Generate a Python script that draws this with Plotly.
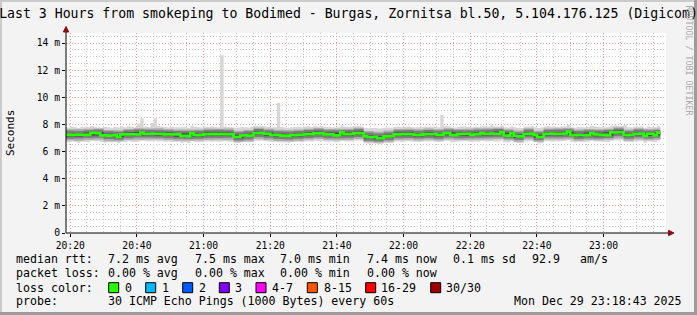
import plotly.graph_objects as go
import pandas as pd

# ---------------- data ----------------
title_text = "Last 3 Hours from smokeping to Bodimed - Burgas, Zornitsa bl.50, 5.104.176.125 (Digicom)"
start_time = "2025-12-29 20:18:00"
range_start = "2025-12-29 20:18:43"
range_end = "2025-12-29 23:18:43"

# median rtt per minute (ms)
rtt_median = [
    7.24, 7.25, 7.23, 7.24, 7.25, 7.24, 7.23, 7.24, 7.37, 7.38,
    7.36, 7.19, 7.20, 7.18, 7.19, 7.20, 7.08, 7.27, 7.26, 7.27,
    7.28, 7.27, 7.26, 7.40, 7.32, 7.31, 7.33, 7.32, 7.31, 7.32,
    7.27, 7.28, 7.26, 7.27, 7.28, 7.15, 7.16, 7.14, 7.37, 7.22,
    7.21, 7.23, 7.29, 7.28, 7.30, 7.29, 7.28, 7.30, 7.29, 7.28,
    7.29, 7.07, 7.08, 7.19, 7.20, 7.18, 7.19, 7.37, 7.36, 7.38,
    7.32, 7.31, 7.22, 7.23, 7.21, 7.17, 7.18, 7.16, 7.22, 7.21,
    7.23, 7.22, 7.29, 7.30, 7.28, 7.35, 7.34, 7.36, 7.27, 7.26,
    7.28, 7.19, 7.20, 7.42, 7.29, 7.28, 7.30, 7.36, 7.37, 7.35,
    7.12, 7.07, 7.06, 7.08, 6.98, 6.99, 7.12, 7.11, 7.13, 7.27,
    7.26, 7.28, 7.29, 7.30, 7.28, 7.24, 7.23, 7.25, 7.29, 7.30,
    7.28, 7.29, 7.22, 7.23, 7.37, 7.36, 7.22, 7.21, 7.29, 7.30,
    7.32, 7.31, 7.22, 7.29, 7.28, 7.37, 7.32, 7.31, 7.33, 7.32,
    7.31, 7.42, 7.19, 7.18, 7.37, 7.17, 7.12, 7.11, 7.32, 7.31,
    7.33, 7.22, 7.07, 7.08, 7.32, 7.31, 7.33, 7.32, 7.31, 7.32,
    7.33, 7.47, 7.22, 7.21, 7.23, 7.22, 7.21, 7.22, 7.37, 7.27,
    7.26, 7.22, 7.23, 7.21, 7.42, 7.41, 7.43, 7.42, 7.22, 7.21,
    7.23, 7.32, 7.31, 7.33, 7.15, 7.32, 7.31, 7.20, 7.40,
]

# slowest ping per minute (ms)
rtt_max = [
    7.82, 7.78, 7.85, 7.80, 7.76, 7.83, 7.79, 7.81, 7.88, 7.84,
    7.80, 7.77, 7.82, 7.79, 7.75, 7.81, 7.78, 7.84, 7.80, 7.86,
    7.83, 7.79, 8.05, 8.45, 7.85, 7.82, 8.10, 8.45, 7.88, 7.84,
    7.81, 7.78, 7.83, 7.80, 7.77, 7.79, 7.82, 7.76, 7.90, 7.83,
    7.80, 7.78, 7.84, 7.81, 7.86, 7.83, 7.80, 13.10, 7.85, 7.82,
    7.79, 7.75, 7.78, 7.81, 7.80, 7.77, 7.83, 7.90, 7.86, 7.88,
    7.84, 7.82, 7.80, 7.79, 9.60, 7.81, 7.78, 7.76, 7.80, 7.83,
    7.81, 7.79, 7.84, 7.86, 7.82, 7.88, 7.85, 7.87, 7.83, 7.81,
    7.80, 7.78, 7.79, 7.92, 7.84, 7.82, 7.85, 7.87, 7.89, 7.86,
    7.76, 7.72, 7.74, 7.73, 7.70, 7.72, 7.75, 7.77, 7.76, 7.82,
    7.84, 7.81, 7.83, 7.85, 7.82, 7.80, 7.79, 7.81, 7.84, 7.83,
    7.85, 7.82, 7.80, 8.70, 7.88, 7.86, 7.79, 7.78, 7.83, 7.84,
    7.85, 7.82, 7.79, 7.83, 7.81, 7.88, 7.86, 7.84, 7.95, 7.85,
    7.83, 7.92, 7.80, 7.78, 7.87, 7.79, 7.75, 7.74, 7.84, 7.85,
    7.86, 7.80, 7.76, 7.78, 7.84, 7.86, 7.83, 7.85, 7.82, 7.84,
    7.86, 7.96, 7.80, 7.78, 7.81, 7.79, 7.80, 7.82, 7.88, 7.84,
    7.82, 7.80, 7.79, 7.81, 7.90, 7.92, 7.89, 7.91, 7.98, 7.80,
    7.79, 7.85, 7.84, 7.86, 7.76, 7.84, 7.82, 7.80, 7.88,
]

# fastest ping per minute (ms)
rtt_min = [
    6.72, 6.68, 6.75, 6.70, 6.66, 6.73, 6.71, 6.69, 6.80, 6.76,
    6.78, 6.70, 6.67, 6.72, 6.69, 6.71, 6.62, 6.74, 6.70, 6.76,
    6.73, 6.71, 6.75, 6.80, 6.78, 6.74, 6.77, 6.79, 6.75, 6.76,
    6.72, 6.74, 6.70, 6.73, 6.75, 6.66, 6.68, 6.64, 6.79, 6.70,
    6.69, 6.71, 6.74, 6.76, 6.73, 6.75, 6.72, 6.74, 6.76, 6.73,
    6.71, 6.62, 6.64, 6.69, 6.70, 6.68, 6.71, 6.80, 6.78, 6.79,
    6.76, 6.74, 6.70, 6.72, 6.69, 6.67, 6.69, 6.66, 6.70, 6.71,
    6.73, 6.70, 6.75, 6.76, 6.74, 6.79, 6.78, 6.80, 6.75, 6.73,
    6.74, 6.69, 6.70, 6.82, 6.76, 6.74, 6.77, 6.80, 6.81, 6.78,
    6.62, 6.58, 6.60, 6.59, 6.55, 6.57, 6.62, 6.64, 6.63, 6.72,
    6.74, 6.71, 6.75, 6.77, 6.73, 6.72, 6.70, 6.74, 6.76, 6.75,
    6.77, 6.74, 6.70, 6.72, 6.80, 6.78, 6.69, 6.71, 6.74, 6.76,
    6.77, 6.75, 6.70, 6.74, 6.73, 6.80, 6.77, 6.76, 6.78, 6.75,
    6.74, 6.82, 6.69, 6.68, 6.79, 6.67, 6.63, 6.62, 6.76, 6.77,
    6.78, 6.70, 6.60, 6.62, 6.76, 6.78, 6.75, 6.77, 6.74, 6.76,
    6.78, 6.86, 6.71, 6.69, 6.72, 6.70, 6.71, 6.73, 6.80, 6.75,
    6.74, 6.72, 6.70, 6.71, 6.82, 6.84, 6.81, 6.83, 6.72, 6.70,
    6.71, 6.77, 6.76, 6.78, 6.66, 6.76, 6.74, 6.70, 6.82,
]

# ping distribution quantiles per 3-minute block (ms)
smoke_p05 = [
    6.83, 6.80, 6.86, 6.88, 6.77, 6.76, 6.85, 6.88, 6.90, 6.89,
    6.85, 6.80, 6.79, 6.81, 6.86, 6.87, 6.86, 6.72, 6.77, 6.92,
    6.86, 6.78, 6.77, 6.80, 6.87, 6.92, 6.85, 6.84, 6.86, 6.92,
    6.70, 6.66, 6.73, 6.85, 6.87, 6.82, 6.87, 6.82, 6.90, 6.85,
    6.86, 6.88, 6.90, 6.92, 6.83, 6.73, 6.89, 6.72, 6.90, 6.89,
    6.91, 6.80, 6.85, 6.83, 6.87, 6.97, 6.80, 6.89, 6.84, 6.88,
]
smoke_p95 = [
    7.64, 7.66, 7.68, 7.71, 7.60, 7.58, 7.67, 7.72, 7.71, 7.72,
    7.67, 7.63, 7.62, 7.63, 7.70, 7.69, 7.70, 7.53, 7.60, 7.76,
    7.68, 7.61, 7.59, 7.62, 7.69, 7.74, 7.67, 7.68, 7.69, 7.75,
    7.52, 7.46, 7.55, 7.67, 7.69, 7.65, 7.70, 7.64, 7.72, 7.67,
    7.68, 7.72, 7.72, 7.75, 7.65, 7.55, 7.72, 7.54, 7.71, 7.72,
    7.74, 7.62, 7.67, 7.65, 7.69, 7.80, 7.62, 7.72, 7.66, 7.70,
]
smoke_p15 = [
    6.95, 6.97, 7.00, 7.02, 6.92, 6.88, 6.98, 7.03, 7.04, 7.02,
    6.99, 6.94, 6.93, 6.95, 7.01, 7.00, 7.02, 6.82, 6.90, 7.08,
    7.00, 6.92, 6.90, 6.94, 7.01, 7.06, 6.99, 6.98, 7.01, 7.07,
    6.80, 6.74, 6.84, 6.98, 7.00, 6.96, 7.01, 6.95, 7.03, 6.99,
    7.00, 7.02, 7.04, 7.06, 6.97, 6.85, 7.03, 6.84, 7.04, 7.03,
    7.06, 6.93, 6.99, 6.96, 7.00, 7.13, 6.94, 7.03, 6.97, 7.02,
]
smoke_p85 = [
    7.55, 7.52, 7.58, 7.62, 7.50, 7.47, 7.57, 7.63, 7.61, 7.60,
    7.56, 7.52, 7.51, 7.53, 7.60, 7.61, 7.58, 7.42, 7.49, 7.66,
    7.58, 7.50, 7.48, 7.52, 7.60, 7.64, 7.57, 7.58, 7.59, 7.66,
    7.40, 7.33, 7.43, 7.57, 7.59, 7.54, 7.60, 7.55, 7.63, 7.57,
    7.58, 7.61, 7.62, 7.66, 7.55, 7.43, 7.62, 7.42, 7.61, 7.62,
    7.64, 7.52, 7.57, 7.55, 7.59, 7.70, 7.52, 7.62, 7.56, 7.60,
]
smoke_p35 = [
    7.12, 7.11, 7.16, 7.19, 7.07, 7.05, 7.15, 7.19, 7.20, 7.19,
    7.15, 7.10, 7.09, 7.10, 7.17, 7.16, 7.17, 6.99, 7.07, 7.25,
    7.16, 7.08, 7.07, 7.10, 7.17, 7.23, 7.15, 7.15, 7.17, 7.24,
    6.96, 6.90, 7.00, 7.15, 7.17, 7.12, 7.17, 7.12, 7.20, 7.15,
    7.16, 7.19, 7.20, 7.23, 7.13, 7.01, 7.20, 7.00, 7.20, 7.20,
    7.22, 7.10, 7.15, 7.13, 7.17, 7.30, 7.10, 7.20, 7.14, 7.18,
]
smoke_p65 = [
    7.37, 7.36, 7.41, 7.44, 7.32, 7.30, 7.40, 7.44, 7.45, 7.45,
    7.40, 7.36, 7.35, 7.35, 7.42, 7.42, 7.42, 7.24, 7.32, 7.50,
    7.41, 7.33, 7.32, 7.35, 7.42, 7.48, 7.40, 7.40, 7.42, 7.49,
    7.21, 7.15, 7.25, 7.40, 7.42, 7.37, 7.42, 7.37, 7.45, 7.40,
    7.41, 7.44, 7.45, 7.48, 7.38, 7.26, 7.45, 7.25, 7.45, 7.45,
    7.47, 7.35, 7.40, 7.38, 7.42, 7.55, 7.35, 7.45, 7.39, 7.43,
]

y_tickvals = [0, 2, 4, 6, 8, 10, 12, 14]
y_ticktext = ["0", "2 m", "4 m", "6 m", "8 m", "10 m", "12 m", "14 m"]

stats_rtt = ["7.2 ms avg", "7.5 ms max", "7.0 ms min", "7.4 ms now", "0.1 ms sd", "92.9", "am/s"]
stats_loss = ["0.00 % avg", "0.00 % max", "0.00 % min", "0.00 % now"]
loss_labels = ["0", "1", "2", "3", "4-7", "8-15", "16-29", "30/30"]
loss_colors = ["#26ff00", "#00b8ff", "#0059ff", "#7e00ff", "#ff00ff", "#ff5500", "#ff0000", "#a10000"]
probe_text = "30 ICMP Echo Pings (1000 Bytes) every 60s"
date_text = "Mon Dec 29 23:18:43 2025"

# ---------------- layout geometry ----------------
W, H = 697, 315
L, R, T, B = 66, 31, 33, 82
PW, PH = W - L - R, H - T - B
MONO = "DejaVu Sans Mono"


def px(x):
    return (x - L) / PW


def py(y):
    return (H - B - y) / PH


t1 = list(pd.date_range(start_time, periods=len(rtt_median) + 1, freq="1min"))
t3 = list(pd.date_range(start_time, periods=len(smoke_p15), freq="3min")) + [t1[-1]]


def ext(v):
    return list(v) + [v[-1]]


fig = go.Figure()


def band(x, lo, hi, color):
    fig.add_trace(go.Scatter(x=x, y=ext(lo), mode="lines", line=dict(width=0, shape="hv"),
                             hoverinfo="skip", showlegend=False))
    fig.add_trace(go.Scatter(x=x, y=ext(hi), mode="lines", line=dict(width=0, shape="hv"),
                             fill="tonexty", fillcolor=color, hoverinfo="skip", showlegend=False))


band(t1, rtt_min, rtt_max, "#d6d6d6")
band(t3, smoke_p05, smoke_p95, "#acacac")
band(t3, smoke_p15, smoke_p85, "#7c7c7c")
band(t3, smoke_p35, smoke_p65, "#4a4a4a")
fig.add_trace(go.Scatter(x=t1, y=ext(rtt_median), mode="lines",
                         line=dict(color="#26ff00", width=2.6, shape="hv"), showlegend=False))

minor_grid = "#c8c8c8"
major_grid = "#e59a9a"

fig.update_layout(
    width=W, height=H,
    margin=dict(l=L, r=R, t=T, b=B),
    paper_bgcolor="#f3f3f3", plot_bgcolor="#ffffff",
    font=dict(family=MONO, color="#000000"),
    title=dict(text=title_text, x=0.5, xref="container", xanchor="center",
               y=1 - 13.5 / H, yref="container", yanchor="middle",
               font=dict(family=MONO, size=13.2, color="#000000")),
    xaxis=dict(
        type="date", range=[range_start, range_end],
        tick0="2025-12-29 20:20:00", dtick=20 * 60 * 1000, tickformat="%H:%M",
        showgrid=True, gridcolor=major_grid, griddash="1px,2px", gridwidth=1,
        ticks="outside", ticklen=3, tickcolor="#000000",
        tickfont=dict(family=MONO, size=9.7, color="#000000"),
        minor=dict(tick0="2025-12-29 20:20:00", dtick=5 * 60 * 1000, showgrid=True,
                   gridcolor=minor_grid, griddash="1px,2px", gridwidth=1),
        zeroline=False, showline=False, fixedrange=True,
    ),
    yaxis=dict(
        range=[0, 14.74], tickvals=y_tickvals, ticktext=y_ticktext,
        showgrid=True, gridcolor=major_grid, griddash="1px,2px", gridwidth=1,
        ticks="outside", ticklen=3, tickcolor="#000000",
        tickfont=dict(family=MONO, size=9.7, color="#000000"),
        minor=dict(dtick=0.5, showgrid=True, gridcolor=minor_grid, griddash="1px,2px", gridwidth=1),
        zeroline=False, showline=False, fixedrange=True,
    ),
)

shapes = []
# axes lines and arrows
shapes.append(dict(type="line", xref="paper", yref="paper", x0=0, x1=0, y0=0, y1=py(29),
                   line=dict(color="#000000", width=1)))
shapes.append(dict(type="line", xref="paper", yref="paper", x0=0, x1=px(670), y0=0, y1=0,
                   line=dict(color="#000000", width=1)))
shapes.append(dict(type="path", xref="paper", yref="paper",
                   path=f"M {px(L)},{py(26.5)} L {px(L - 2.7)},{py(32)} L {px(L + 2.7)},{py(32)} Z",
                   fillcolor="#8b1010", line=dict(color="#8b1010", width=1)))
shapes.append(dict(type="path", xref="paper", yref="paper",
                   path=f"M {px(674)},{py(H - B)} L {px(668.5)},{py(H - B - 2.7)} L {px(668.5)},{py(H - B + 2.7)} Z",
                   fillcolor="#8b1010", line=dict(color="#8b1010", width=1)))
# loss colour boxes
box_x = [108.7, 145.7, 182.7, 219.3, 256.0, 307.3, 365.7, 430.7]
label_x = [124.0, 161.0, 198.0, 234.0, 270.7, 322.7, 380.0, 445.0]
row_y = [259.3, 273.3, 287.7, 301.3]
for bx, col in zip(box_x, loss_colors):
    shapes.append(dict(type="rect", xref="paper", yref="paper",
                       x0=px(bx), x1=px(bx + 10), y0=py(row_y[2] - 5), y1=py(row_y[2] + 5),
                       fillcolor=col, line=dict(color="#000000", width=1)))
# 3D frame
shapes.append(dict(type="rect", xref="paper", yref="paper", x0=px(0), x1=px(2), y0=py(0), y1=py(H),
                   fillcolor="#cbcbcb", line=dict(width=0)))
shapes.append(dict(type="rect", xref="paper", yref="paper", x0=px(0), x1=px(W), y0=py(0), y1=py(2),
                   fillcolor="#cbcbcb", line=dict(width=0)))
shapes.append(dict(type="rect", xref="paper", yref="paper", x0=px(W - 3), x1=px(W), y0=py(0), y1=py(H),
                   fillcolor="#9c9c9c", line=dict(width=0)))
shapes.append(dict(type="rect", xref="paper", yref="paper", x0=px(0), x1=px(W), y0=py(H - 3), y1=py(H),
                   fillcolor="#9c9c9c", line=dict(width=0)))
fig.update_layout(shapes=shapes)

ann = []


def text(x, y, s, size=11.6, color="#000000", angle=0, xanchor="left"):
    ann.append(dict(xref="paper", yref="paper", x=px(x), y=py(y), text=s, showarrow=False,
                    xanchor=xanchor, yanchor="middle", textangle=angle, borderpad=0,
                    font=dict(family=MONO, size=size, color=color)))


text(15, row_y[0], "median rtt:")
for xx, s in zip([107.3, 194.0, 279.3, 366.0, 451.7, 531.0, 579.3], stats_rtt):
    text(xx, row_y[0], s)
text(15, row_y[1], "packet loss:")
for xx, s in zip([107.3, 194.0, 279.3, 366.0], stats_loss):
    text(xx, row_y[1], s)
text(15, row_y[2], "loss color:")
for xx, s in zip(label_x, loss_labels):
    text(xx, row_y[2], s)
text(15, row_y[3], "probe:")
text(107.3, row_y[3], probe_text)
text(513.3, row_y[3], date_text)
text(10, 133, "Seconds", size=11, angle=-90, xanchor="center")
text(688.5, 60, "RRDTOOL / TOBI OETIKER", size=8.3, color="#aaaaaa", angle=90, xanchor="center")
fig.update_layout(annotations=ann)

fig.write_html("out.html")
